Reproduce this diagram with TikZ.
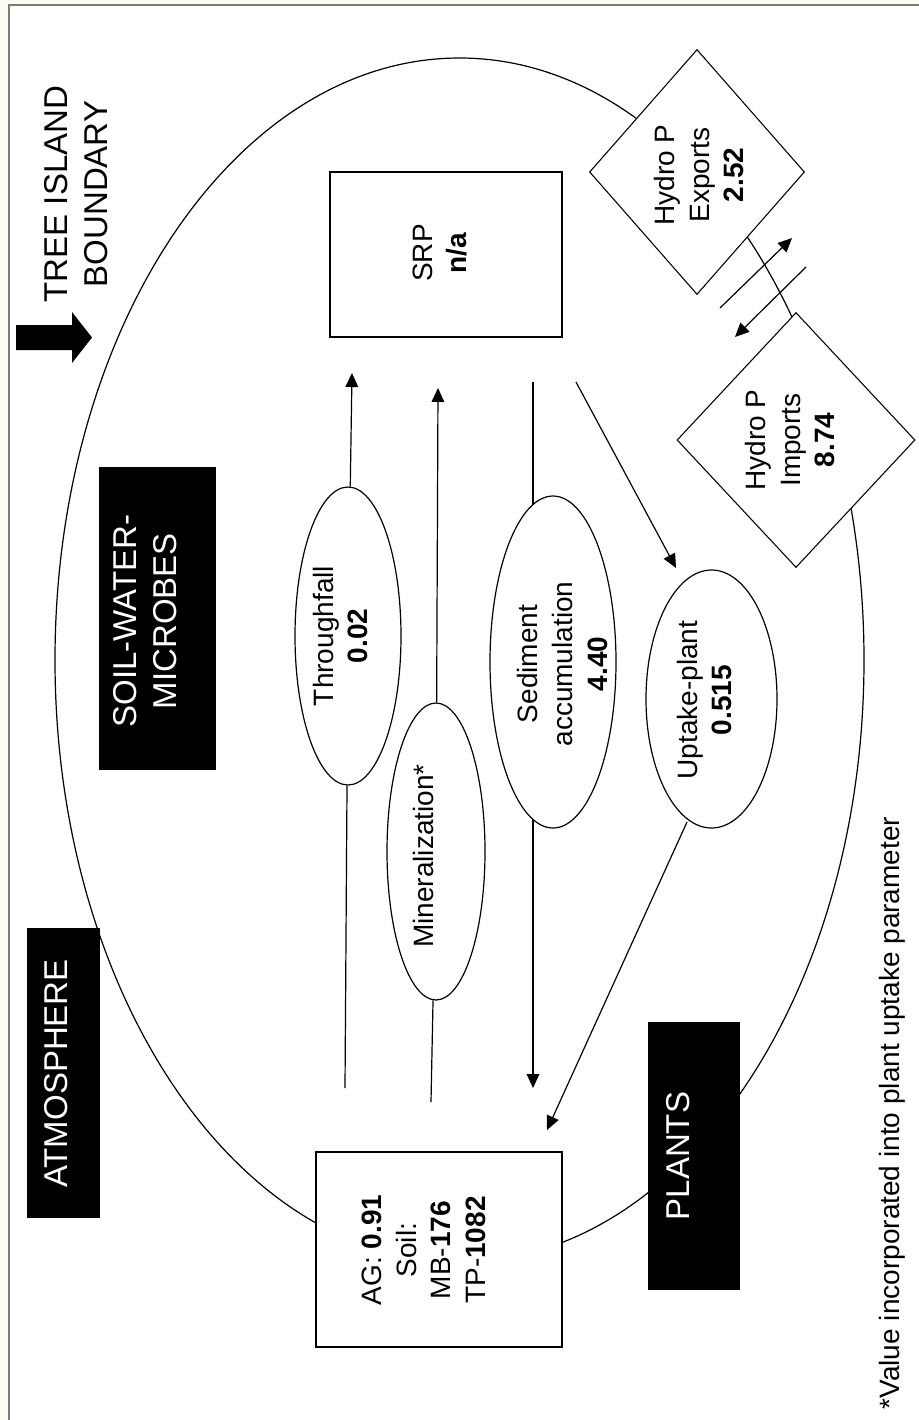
\documentclass[tikz,border=0pt]{standalone}
\usepackage{fontspec}
\setmainfont{Liberation Sans}
\usetikzlibrary{arrows.meta,shapes.geometric}
\definecolor{framecol}{RGB}{125,125,110}
\definecolor{pagecol}{RGB}{252,252,244}
\begin{document}
\begin{tikzpicture}[x=0.75pt,y=-0.75pt,
  outline/.style={draw=black,line width=0.9pt},
  flow/.style={line width=0.9pt,-{Triangle[length=10.5pt,width=9.5pt]}},
  plainflow/.style={line width=0.9pt},
  pool/.style={rectangle,outline,fill=white,inner sep=0pt},
  process/.style={ellipse,outline,fill=white,inner sep=0pt},
  hydro/.style={diamond,draw=black,line width=0.8pt,fill=white,inner sep=0pt},
  tag/.style={rectangle,fill=black,draw=none,inner sep=0pt},
  bodytext/.style={font=\fontsize{21}{26}\selectfont,rotate=90,align=center,inner sep=0pt},
  headtext/.style={font=\fontsize{24.75}{30}\selectfont,rotate=90,align=center,inner sep=0pt},
]
\useasboundingbox (0,0) rectangle (919,1420);
\clip (0,0) rectangle (919,1420);

% page and frame
\fill[pagecol] (0,0) rectangle (919,1420);
\fill[white] (9,5) rectangle (925,1425);
\draw[framecol,line width=1.1pt] (9,1425) -- (9,5) -- (925,5);

% tree island boundary
\node[ellipse,draw=black,line width=0.9pt,inner sep=0pt,
      minimum width=606.75pt,minimum height=903pt] (island) at (459.5,660) {};

% free ends of the flow lines
\coordinate (tfIn)   at (345,1088);
\coordinate (tfOut)  at (352,373);
\coordinate (minIn)  at (431,1102);
\coordinate (minOut) at (438,388);
\coordinate (sedIn)  at (533,382);
\coordinate (sedOut) at (533,1088);
\coordinate (uptIn)  at (576,382);
\coordinate (uptTip) at (676,568);
\coordinate (uptOut) at (687,822);
\coordinate (uptEnd) at (547,1130);
\coordinate (expA)   at (720,308);
\coordinate (expB)   at (792,238);
\coordinate (impA)   at (806,267);
\coordinate (impB)   at (735,337);

% sediment line runs behind its ellipse
\draw[flow] (sedIn) -- (sedOut);

% process ellipses
\node[process,minimum width=79.5pt,minimum height=223.5pt] (tf)  at (348,636) {};
\node[process,minimum width=73.5pt,minimum height=222.75pt] (min) at (436,851.5) {};
\node[process,minimum width=94.5pt,minimum height=249pt] (sed) at (553,662) {};
\node[process,minimum width=98.25pt,minimum height=193.5pt] (upt) at (711.5,699) {};

% pools
\node[pool,minimum width=174pt,minimum height=123.75pt] (srp) at (446,254.5) {};
\node[pool,minimum width=184.5pt,minimum height=146.25pt] (ag) at (439,1249.5) {};

% hydrologic exchanges
\node[hydro,minimum width=161.25pt,minimum height=183.75pt] (exp) at (697,172) {};
\node[hydro,minimum width=178.5pt,minimum height=191.25pt] (imp) at (796,440) {};

% flows
\draw[plainflow] (tfIn) -- (tf);
\draw[flow] (tf) -- (tfOut);
\draw[plainflow] (minIn) -- (min);
\draw[flow] (min) -- (minOut);
\draw[flow] (uptIn) -- (uptTip);
\draw[flow] (uptOut) -- (uptEnd);
\draw[flow] (expA) -- (expB);
\draw[flow] (impA) -- (impB);

% boundary marker arrow
\fill[black] (16,325) -- (72,325) -- (72,312) -- (92,337.5) -- (72,363) -- (72,350) -- (16,350) -- cycle;

% compartment tags
\node[tag,minimum width=54.75pt,minimum height=217.5pt] (atmTag) at (63.5,1073) {};
\node[tag,minimum width=87.75pt,minimum height=227.25pt] (soilTag) at (157.5,618.5) {};
\node[tag,minimum width=69pt,minimum height=201pt] (plTag) at (694,1156) {};

% labels
\node[headtext] (tib) at (76.5,194) {TREE ISLAND\\BOUNDARY};
\node[headtext,text=white] (soilLbl) at (145.5,621) {SOIL-WATER-\\MICROBES};
\node[headtext,text=white,anchor=base] (atmLbl) at (67,1073.5) {ATMOSPHERE};
\node[headtext,text=white,anchor=base] (plLbl) at (689,1156) {PLANTS};

\node[bodytext] (srpLbl) at (440,253) {SRP\\\textbf{n/a}};
\node[bodytext] (agLbl) at (424,1250) {AG: \textbf{0.91}\\Soil:\\MB-\textbf{176}\\TP-\textbf{1082}};
\node[bodytext] (tfLbl) at (340.5,636) {Throughfall\\\textbf{0.02}};
\node[bodytext,anchor=base] (minLbl) at (433,856) {Mineralization*};
\node[bodytext] (sedLbl) at (562.5,664) {Sediment\\accumulation\\\textbf{4.40}};
\node[bodytext] (uptLbl) at (704.5,700) {Uptake-plant\\\textbf{0.515}};
\node[bodytext] (expLbl) at (699,175) {Hydro P\\Exports\\\textbf{2.52}};
\node[bodytext] (impLbl) at (790,440) {Hydro P\\Imports\\\textbf{8.74}};

\node[bodytext,anchor=base] (note) at (899,1113) {*Value incorporated into plant uptake parameter};
\end{tikzpicture}
\end{document}
